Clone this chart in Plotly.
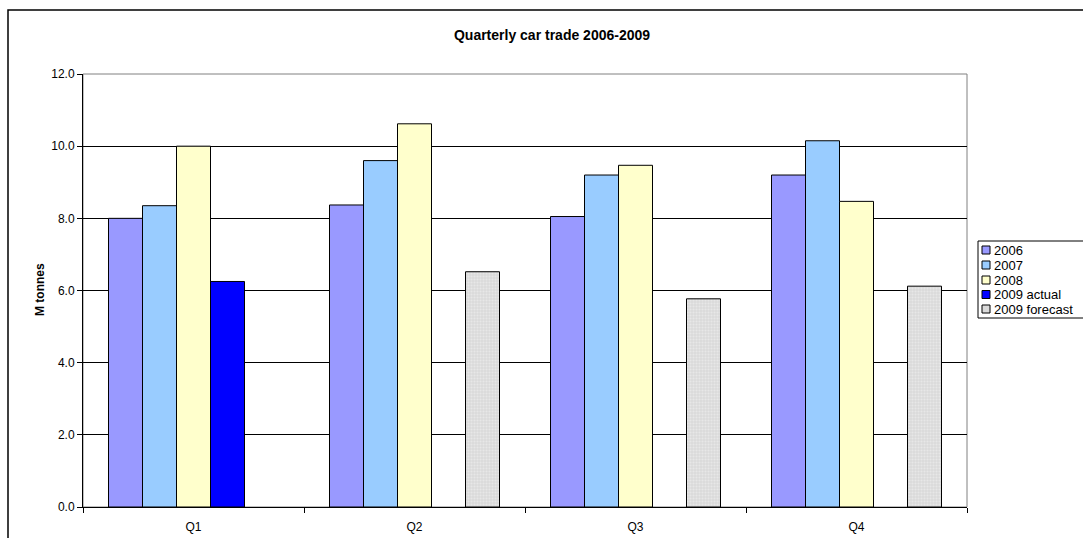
import plotly.graph_objects as go

quarters = ["Q1", "Q2", "Q3", "Q4"]
series_names = ["2006", "2007", "2008", "2009 actual", "2009 forecast"]
v2006 = [8.0, 8.37, 8.05, 9.2]
v2007 = [8.35, 9.6, 9.2, 10.15]
v2008 = [10.0, 10.62, 9.47, 8.47]
v2009_actual = [6.25, None, None, None]
v2009_forecast = [None, 6.52, 5.77, 6.12]
y_ticks = [0, 2, 4, 6, 8, 10, 12]

colors = ["#9999FF", "#99CCFF", "#FFFFCC", "#0000FF", "#DADADA"]
values = [v2006, v2007, v2008, v2009_actual, v2009_forecast]

W, H = 1083, 538
ML, MR, MT, MB = 83, 116, 74, 31
PW = W - ML - MR
PH = H - MT - MB
FONT = "Arial, Liberation Sans, sans-serif"


def xp(px):
    return (px - ML) / PW


def yp(py):
    return (H - MB - py) / PH


fig = go.Figure()
for name, vals, col in zip(series_names, values, colors):
    marker = dict(color=col, line=dict(color="#000000", width=1))
    if name == "2009 forecast":
        marker["pattern"] = dict(shape=".", fgcolor="#F4F4F4", size=3,
                                 solidity=0.35, fillmode="overlay")
    fig.add_trace(go.Bar(x=quarters, y=vals, name=name, marker=marker,
                         showlegend=False))

shapes = []
annotations = []

# outer chart border
shapes.append(dict(type="rect", xref="paper", yref="paper",
                   x0=xp(8), x1=xp(1110), y0=yp(10), y1=yp(560),
                   line=dict(color="#000000", width=1.5), layer="below"))
# plot area border (gray)
shapes.append(dict(type="rect", xref="paper", yref="paper",
                   x0=0, x1=1, y0=0, y1=1,
                   line=dict(color="#808080", width=1), layer="below"))

# custom legend
LX, LT, LB = 978, 241, 318
shapes.append(dict(type="rect", xref="paper", yref="paper",
                   x0=xp(LX), x1=xp(1110), y0=yp(LT), y1=yp(LB),
                   line=dict(color="#000000", width=1),
                   fillcolor="#FFFFFF", layer="above"))
item_y = [250, 265, 280, 294.5, 309]
for name, col, cy in zip(series_names, colors, item_y):
    shapes.append(dict(type="rect", xref="paper", yref="paper",
                       x0=xp(982), x1=xp(990), y0=yp(cy - 4), y1=yp(cy + 4),
                       line=dict(color="#000000", width=1),
                       fillcolor=col, layer="above"))
    annotations.append(dict(text=name, xref="paper", yref="paper",
                            x=xp(992), y=yp(cy), xanchor="left",
                            yanchor="middle", showarrow=False,
                            font=dict(family=FONT, size=13, color="#000000")))

# y-axis title
annotations.append(dict(text="<b>M tonnes</b>", xref="paper", yref="paper",
                        x=xp(40), y=yp(290), xanchor="center",
                        yanchor="middle", textangle=-90, showarrow=False,
                        font=dict(family=FONT, size=12, color="#000000")))

fig.update_layout(
    width=W, height=H,
    margin=dict(l=ML, r=MR, t=MT, b=MB, pad=0, autoexpand=False),
    paper_bgcolor="#FFFFFF", plot_bgcolor="#FFFFFF",
    barmode="group", bargap=0.2308, bargroupgap=0,
    title=dict(text="<b>Quarterly car trade 2006-2009</b>",
               x=552 / W, xref="container", xanchor="center",
               y=1 - 35 / H, yref="container", yanchor="middle",
               font=dict(family=FONT, size=14, color="#000000")),
    font=dict(family=FONT, size=12, color="#000000"),
    shapes=shapes, annotations=annotations,
    showlegend=False,
)
fig.update_xaxes(
    type="category", showgrid=False, showline=True, linecolor="#000000",
    linewidth=1, ticks="outside", tickson="boundaries", ticklen=5,
    tickcolor="#000000", tickfont=dict(family=FONT, size=12, color="#000000"),
    ticklabelstandoff=9, zeroline=False, automargin=False,
)
fig.update_yaxes(
    range=[0, 12], tickvals=y_ticks, tickformat=".1f",
    showgrid=True, gridcolor="#000000", gridwidth=1,
    showline=True, linecolor="#000000", linewidth=1,
    ticks="outside", ticklen=5, tickcolor="#000000",
    tickfont=dict(family=FONT, size=12, color="#000000"),
    zeroline=False, automargin=False,
)

fig.write_html("out.html")
